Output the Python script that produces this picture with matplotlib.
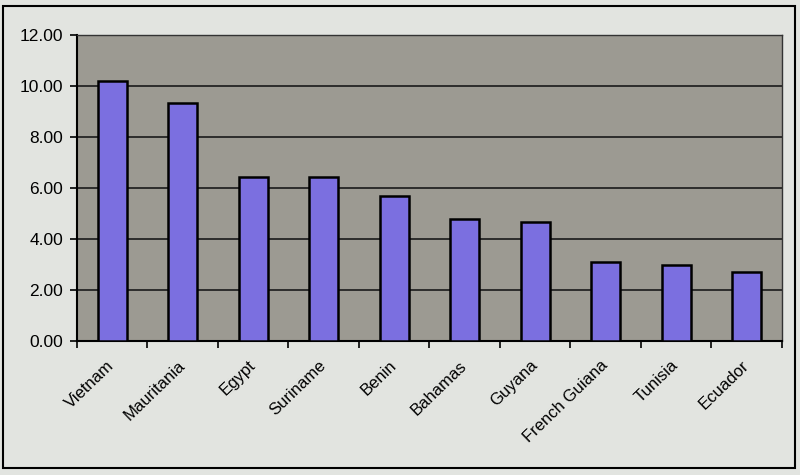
import numpy as np
import matplotlib.pyplot as plt
import matplotlib.transforms as mtransforms
from matplotlib.patches import Rectangle

countries = ['Vietnam', 'Mauritania', 'Egypt', 'Suriname', 'Benin',
             'Bahamas', 'Guyana', 'French Guiana', 'Tunisia', 'Ecuador']
values = [10.2, 9.33, 6.43, 6.43, 5.69, 4.78, 4.67, 3.10, 2.98, 2.71]
yticks = [0, 2, 4, 6, 8, 10, 12]

plt.rcParams['font.family'] = ['Liberation Sans', 'DejaVu Sans']

fig = plt.figure(figsize=(8, 4.75), dpi=100)
fig.patch.set_facecolor('#e2e4e0')
# chart frame
fig.add_artist(Rectangle((0.004, 0.015), 0.99, 0.972, transform=fig.transFigure,
                         fill=False, edgecolor='black', linewidth=1.5))

ax = fig.add_axes([0.096, 0.282, 0.8815, 0.644])
ax.set_facecolor('#9c9a92')

x = np.arange(len(countries))
ax.bar(x, values, width=0.41, color='#7b6fe0', edgecolor='black', linewidth=1.8, zorder=3)

ax.set_xlim(-0.5, len(countries) - 0.5)
ax.set_ylim(0, 12)
ax.set_yticks(yticks)
ax.set_yticklabels(['%.2f' % v for v in yticks], fontsize=12.5)
ax.yaxis.grid(True, color='#1a1a1a', linewidth=1.2, zorder=1)
ax.set_axisbelow(True)

# ticks between categories, labels at centres
ax.set_xticks(np.arange(len(countries) + 1) - 0.5)
ax.set_xticklabels([])
ax.set_xticks(x, minor=True)
ax.set_xticklabels(countries, minor=True, rotation=44, ha='right', va='center',
                   rotation_mode='anchor', fontsize=12)
shift = mtransforms.ScaledTranslation(-5 / 100, 0, fig.dpi_scale_trans)
for lab in ax.get_xticklabels(minor=True):
    lab.set_transform(lab.get_transform() + shift)
ax.tick_params(axis='x', which='minor', length=0, pad=16)
ax.tick_params(axis='x', which='major', length=5, width=1.2, direction='out')
ax.tick_params(axis='y', length=5, width=1.2, direction='out', pad=5)

for s in ['top', 'right']:
    ax.spines[s].set_color('#333333')
    ax.spines[s].set_linewidth(1.0)
for s in ['left', 'bottom']:
    ax.spines[s].set_color('black')
    ax.spines[s].set_linewidth(1.5)

fig.savefig('out.png', dpi=100, facecolor=fig.get_facecolor())
